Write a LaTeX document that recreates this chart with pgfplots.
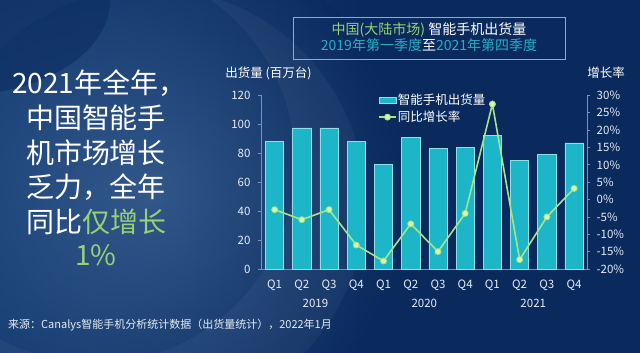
\documentclass[border=0pt]{standalone}
\usepackage{fontspec}
\setmainfont{Noto Sans CJK SC}
\usepackage{pgfplots}
\pgfplotsset{compat=1.18}
\definecolor{bg}{HTML}{0A2A5E}
\definecolor{bgl}{HTML}{1D4A84}
\definecolor{barc}{HTML}{1DB6C8}
\definecolor{bare}{HTML}{8EE0E8}
\definecolor{linec}{HTML}{A6E38A}
\definecolor{markc}{HTML}{D8F7AC}
\definecolor{gr}{HTML}{94D274}
\definecolor{teal2}{HTML}{2AAEC2}
\definecolor{axc}{HTML}{7F90B2}
\definecolor{txt}{HTML}{E6ECF4}
\begin{document}
\begin{tikzpicture}[x=1pt,y=1pt]
\useasboundingbox (0,0) rectangle (640,353);
\begin{scope}
\clip (0,0) rectangle (640,353);
\fill[bg] (0,0) rectangle (640,353);
\shade[left color=bgl, right color=bg] (0,0) rectangle (360,353);
\shade[inner color=bgl!80!white, outer color=bg, opacity=0.55] (150,160) circle (260);
\fill[white, opacity=0.04, even odd rule] (150,150) circle (215) (95,190) circle (200);
\fill[bg, opacity=0.55] (-40,353) ellipse (150 and 95);
\end{scope}
% left headline
\node[anchor=west, text=white, font=\fontsize{28}{30}\selectfont, inner sep=0pt] at (12,270) {2021年全年，};
\node[anchor=center, text=white, font=\fontsize{28}{30}\selectfont, inner sep=0pt] at (96,235) {中国智能手};
\node[anchor=center, text=white, font=\fontsize{28}{30}\selectfont, inner sep=0pt] at (96,200) {机市场增长};
\node[anchor=center, text=white, font=\fontsize{28}{30}\selectfont, inner sep=0pt] at (96,166) {乏力，全年};
\node[anchor=center, text=white, font=\fontsize{28}{30}\selectfont, inner sep=0pt] at (96,131) {同比\textcolor{gr}{仅增长}};
\node[anchor=center, text=gr, font=\fontsize{28}{30}\selectfont, inner sep=0pt] at (96,98) {1\%};
% title box
\draw[axc!80!white, line width=0.8pt] (293,336) rectangle (565,294);
\node[font=\fontsize{14}{15}\selectfont, inner sep=0pt] at (429,323) {\textcolor{gr}{中国(大陆市场)} \textcolor{white}{智能手机出货量}};
\node[font=\fontsize{14}{15}\selectfont, inner sep=0pt] at (429,308) {\textcolor{teal2}{2019年第一季度}\textcolor{white}{至}\textcolor{teal2}{2021年第四季度}};
% axis titles
\node[text=white, font=\fontsize{12.5}{14}\selectfont, inner sep=0pt] at (268.5,280) {出货量 (百万台)};
\node[text=white, font=\fontsize{12.5}{14}\selectfont, inner sep=0pt] at (606,280) {增长率};
% footer
\node[anchor=west, text=txt, font=\fontsize{11}{12}\selectfont, inner sep=0pt] at (8,28) {来源：Canalys智能手机分析统计数据（出货量统计），2022年1月};

\begin{axis}[
  at={(261pt,84pt)}, anchor=south west,
  width=326.7pt, height=173.6pt, scale only axis,
  xmin=-0.5, xmax=11.5, ymin=0, ymax=120,
  axis y line*=left, axis x line*=bottom,
  axis line style={axc, line width=0.8pt, -},
  ytick={0,20,...,120},
  xtick={0,...,11},
  xticklabels={Q1,Q2,Q3,Q4,Q1,Q2,Q3,Q4,Q1,Q2,Q3,Q4},
  x tick style={draw=none},
  y tick style={axc, line width=0.8pt},
  tick align=outside, major tick length=3pt,
  /pgf/number format/assume math mode=true,
  ticklabel style={text=txt, font=\fontsize{11.5}{13}\selectfont},
  yticklabel style={xshift=-4pt},
  xticklabel style={yshift=-4pt},
  ybar, bar width=18.3pt,
  clip=false,
]
\addplot[fill=barc, draw=bare, line width=0.6pt] coordinates {
(0,88.3) (1,97.6) (2,97.6) (3,88.0) (4,72.5) (5,90.7) (6,83.1) (7,84.3) (8,92.6) (9,75.3) (10,79.2) (11,87.1)};
\node[text=txt, font=\fontsize{11.5}{13}\selectfont] at (axis cs:1.5,0) [yshift=-34pt] {2019};
\node[text=txt, font=\fontsize{11.5}{13}\selectfont] at (axis cs:5.5,0) [yshift=-34pt] {2020};
\node[text=txt, font=\fontsize{11.5}{13}\selectfont] at (axis cs:9.5,0) [yshift=-34pt] {2021};
\end{axis}

\begin{axis}[
  at={(261pt,84pt)}, anchor=south west,
  width=326.7pt, height=173.6pt, scale only axis,
  xmin=-0.5, xmax=11.5, ymin=-20, ymax=30,
  axis y line*=right, axis x line=none,
  axis line style={axc, line width=0.8pt, -},
  ytick={-20,-15,...,30},
  y tick style={axc, line width=0.8pt},
  tick align=outside, major tick length=2.5pt,
  /pgf/number format/assume math mode=true,
  yticklabel={\pgfmathprintnumber{\tick}\%},
  ticklabel style={text=txt, font=\fontsize{11.5}{13}\selectfont},
  yticklabel style={xshift=3pt},
  legend style={at={(0.358,1.015)}, anchor=north west, draw=none, fill=none,
    text=white, font=\fontsize{12.5}{14}\selectfont, row sep=3pt, inner sep=0pt,
    nodes={inner sep=1pt}},
  legend cell align=left,
  clip=false,
]
\addlegendimage{area legend, fill=barc, draw=bare, line width=0.6pt}
\addlegendentry{智能手机出货量}
\addplot[linec, line width=1.6pt, mark=*, mark size=3pt,
  mark options={fill=markc, draw=linec, line width=0.8pt}] coordinates {
(0,-2.9) (1,-5.8) (2,-2.9) (3,-13.1) (4,-17.7) (5,-7.0) (6,-15.0) (7,-4.0) (8,27.5) (9,-17.3) (10,-5.0) (11,3.2)};
\addlegendentry{同比增长率}
\end{axis}
\end{tikzpicture}
\end{document}
